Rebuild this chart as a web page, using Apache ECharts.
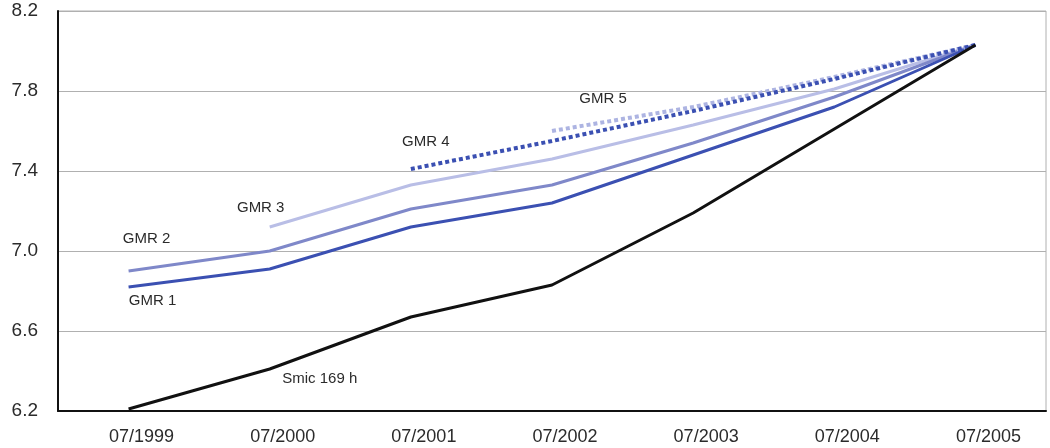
<!DOCTYPE html>
<html>
<head>
<meta charset="utf-8">
<script src="https://cdn.jsdelivr.net/npm/echarts@6/dist/echarts.min.js"></script>
<style>
html,body{margin:0;padding:0;background:#fff;}
#chart{width:1050px;height:448px;}
</style>
</head>
<body>
<div id="chart"></div>
<script>
var categories = ['07/1999','07/2000','07/2001','07/2002','07/2003','07/2004','07/2005'];
var yTicks = [6.2, 6.6, 7.0, 7.4, 7.8, 8.2];
var smic = [6.21, 6.41, 6.67, 6.83, 7.19, 7.61, 8.03];
var gmr1 = [6.82, 6.91, 7.12, 7.24, 7.48, 7.72, 8.03];
var gmr2 = [6.90, 7.00, 7.21, 7.33, 7.54, 7.77, 8.03];
var gmr3 = [null, 7.12, 7.33, 7.46, 7.63, 7.81, 8.03];
var gmr4 = [null, null, 7.41, 7.55, 7.70, 7.86, 8.03];
var gmr5 = [null, null, null, 7.60, 7.72, 7.87, 8.03];
var seriesNames = ['Smic 169 h', 'GMR 1', 'GMR 2', 'GMR 3', 'GMR 4', 'GMR 5'];

function withLabel(values, idx, text, offset) {
  return values.map(function (v, i) {
    if (i === idx) {
      return {
        value: v,
        label: {
          show: true, position: 'inside', formatter: text, offset: offset,
          fontFamily: 'Liberation Sans, Arial, sans-serif', fontSize: 15, color: '#2b2b2b'
        }
      };
    }
    return v;
  });
}

function lineSeries(name, data, color, dashed) {
  return {
    name: name, type: 'line', data: data,
    symbol: 'circle', symbolSize: 0, showSymbol: true,
    itemStyle: { color: color },
    label: { show: false },
    lineStyle: { color: color, width: dashed ? 4 : 3, type: dashed ? [4, 3] : 'solid', cap: 'butt' },
    emphasis: { disabled: true },
    silent: true, animation: false
  };
}

var chart = echarts.init(document.getElementById('chart'));
chart.setOption({
  animation: false,
  grid: { left: 58, right: 4, top: 11, bottom: 37, show: true, borderColor: '#b0b0b0', borderWidth: 1, backgroundColor: 'transparent' },
  xAxis: {
    type: 'category', data: categories, boundaryGap: true,
    axisLine: { lineStyle: { color: '#111', width: 2 } },
    axisTick: { inside: true, length: 5, lineStyle: { color: '#111', width: 2 } },
    axisLabel: { margin: 17, fontSize: 18, color: '#2b2b2b', fontFamily: 'Liberation Sans, Arial, sans-serif', padding: [0, 0, 0, 26] },
    splitLine: { show: false }
  },
  yAxis: {
    type: 'value', min: yTicks[0], max: yTicks[yTicks.length - 1], interval: 0.4,
    axisLine: { show: true, lineStyle: { color: '#111', width: 2 } },
    axisTick: { show: false },
    axisLabel: { margin: 20, fontSize: 19, color: '#2b2b2b', fontFamily: 'Liberation Sans, Arial, sans-serif',
      formatter: function (v) { return v.toFixed(1); } },
    splitLine: { lineStyle: { color: '#b0b0b0', width: 1 } }
  },
  series: [
    lineSeries(seriesNames[3], withLabel(gmr3, 1, seriesNames[3], [-9, -19]), '#b9bee6', false),
    lineSeries(seriesNames[2], withLabel(gmr2, 0, seriesNames[2], [18, -32]), '#7f88c9', false),
    lineSeries(seriesNames[1], withLabel(gmr1, 0, seriesNames[1], [24, 14]), '#3b50b2', false),
    lineSeries(seriesNames[5], withLabel(gmr5, 3, seriesNames[5], [51, -32]), '#adb4e2', true),
    lineSeries(seriesNames[4], withLabel(gmr4, 2, seriesNames[4], [15, -27]), '#3b50b2', true),
    lineSeries(seriesNames[0], withLabel(smic, 1, seriesNames[0], [50, 10]), '#111111', false)
  ]
});
</script>
</body>
</html>
